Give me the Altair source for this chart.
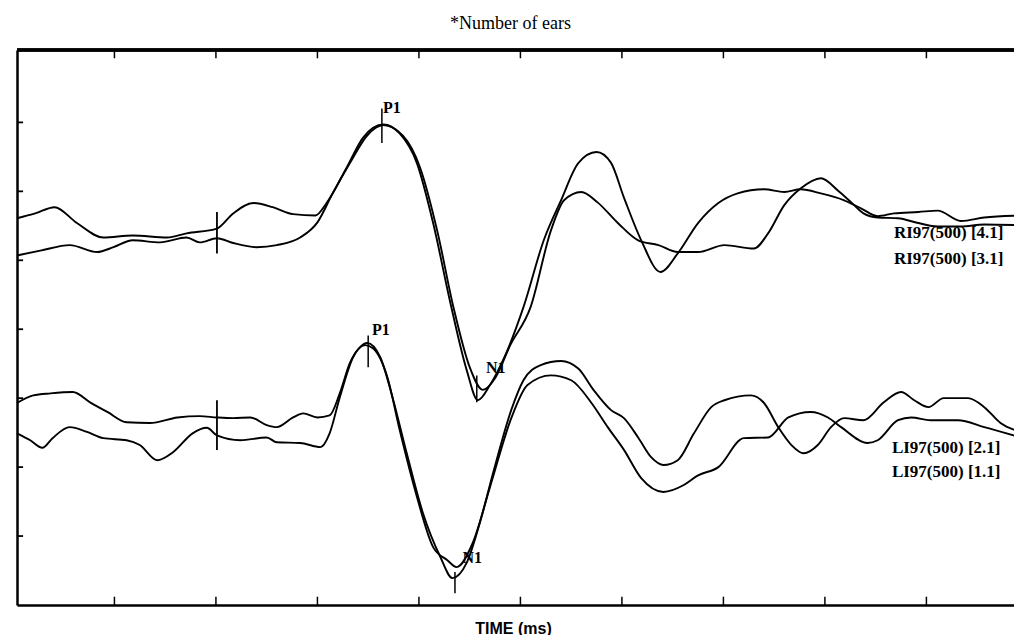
import altair as alt
import pandas as pd

# ---- waveform data (time in ms, amplitude in µV) ----
U1_T = [4, 22, 41, 63, 89, 118, 152, 171, 201, 217, 237, 256, 276, 298, 309, 329, 345, 365, 381, 398,
        414, 431, 447, 458, 470, 485, 503, 523, 540, 557, 575, 589, 602, 619, 638, 655, 675, 695, 714,
        740, 760, 776, 796, 819, 836, 852, 868, 892, 911, 934, 957, 993]
U1_V = [1.61, 1.68, 1.77, 1.54, 1.33, 1.36, 1.33, 1.39, 1.46, 1.68, 1.83, 1.77, 1.67, 1.65, 1.83, 2.35,
        2.78, 2.97, 2.84, 2.41, 1.54, 0.38, -0.59, -1.03, -0.81, -0.38, 0.32, 1.29, 1.87, 2.41, 2.57,
        2.42, 1.91, 1.29, 0.83, 1.10, 1.54, 1.83, 1.97, 2.03, 1.99, 2.03, 1.97, 1.87, 1.75, 1.64, 1.68,
        1.70, 1.72, 1.57, 1.62, 1.65]

U2_T = [4, 27, 56, 83, 99, 118, 145, 171, 184, 201, 217, 240, 260, 283, 300, 315, 332, 349, 365, 384,
        401, 418, 434, 450, 463, 475, 490, 510, 530, 543, 560, 576, 596, 616, 636, 655, 675, 701, 730,
        744, 760, 776, 796, 813, 826, 838, 852, 872, 892, 911, 934, 957, 993]
U2_V = [1.07, 1.14, 1.22, 1.12, 1.19, 1.29, 1.26, 1.33, 1.26, 1.32, 1.25, 1.19, 1.22, 1.33, 1.55, 1.97,
        2.41, 2.81, 2.96, 2.81, 2.35, 1.43, 0.32, -0.55, -0.88, -0.71, -0.23, 0.32, 1.43, 1.87, 1.99,
        1.84, 1.54, 1.29, 1.22, 1.12, 1.12, 1.22, 1.17, 1.39, 1.80, 2.04, 2.19, 2.01, 1.84, 1.68, 1.62,
        1.61, 1.54, 1.49, 1.49, 1.52, 1.51]

L1_T = [4, 20, 37, 59, 76, 93, 112, 135, 162, 184, 201, 217, 234, 250, 260, 276, 286, 300, 312, 322,
        332, 342, 349, 362, 374, 388, 404, 421, 433, 447, 460, 473, 491, 503, 520, 540, 557, 572, 589,
        602, 616, 629, 641, 655, 671, 688, 701, 727, 740, 754, 767, 779, 793, 806, 819, 838, 858, 875,
        888, 902, 917, 941, 957, 973, 993]
L1_V = [-1.07, -0.96, -0.93, -0.91, -1.06, -1.20, -1.35, -1.36, -1.28, -1.26, -1.28, -1.29, -1.28,
        -1.39, -1.42, -1.28, -1.22, -1.28, -1.25, -0.93, -0.49, -0.26, -0.20, -0.41, -0.99, -1.80,
        -2.67, -3.30, -3.61, -3.39, -2.81, -2.09, -1.17, -0.74, -0.52, -0.46, -0.57, -0.88, -1.17,
        -1.29, -1.57, -1.86, -1.97, -1.90, -1.51, -1.13, -1.03, -0.96, -1.07, -1.42, -1.68, -1.80,
        -1.68, -1.42, -1.29, -1.32, -1.06, -0.91, -1.03, -1.13, -1.00, -1.00, -1.13, -1.36, -1.49]

L2_T = [4, 17, 29, 39, 56, 73, 89, 112, 125, 142, 158, 177, 191, 201, 224, 250, 260, 283, 303, 312,
        322, 335, 347, 355, 369, 381, 398, 414, 428, 437, 453, 470, 491, 507, 530, 550, 570, 586, 602,
        619, 641, 661, 675, 695, 720, 744, 764, 786, 803, 816, 842, 852, 872, 885, 904, 931, 957, 993]
L2_V = [-1.51, -1.61, -1.72, -1.58, -1.42, -1.49, -1.58, -1.61, -1.68, -1.90, -1.78, -1.51, -1.43,
        -1.54, -1.61, -1.57, -1.64, -1.65, -1.71, -1.51, -0.99, -0.41, -0.23, -0.28, -0.70, -1.46,
        -2.43, -3.16, -3.35, -3.45, -3.10, -2.29, -1.29, -0.81, -0.67, -0.74, -1.07, -1.42, -1.75,
        -2.16, -2.36, -2.26, -2.12, -2.00, -1.58, -1.57, -1.28, -1.20, -1.28, -1.42, -1.65, -1.61,
        -1.32, -1.28, -1.32, -1.32, -1.42, -1.57]

SERIES = ["RI97(500) [4.1]", "RI97(500) [3.1]", "LI97(500) [2.1]", "LI97(500) [1.1]"]

# series labels at the right end
LABEL_T = [868, 868, 866, 866]
LABEL_V = [1.32, 0.95, -1.80, -2.14]

# component markers (P1 / N1) : vertical tick and label
COMP_TEXT = ["P1", "N1", "P1", "N1"]
COMP_T = [363.5, 457, 350, 435.5]
COMP_V_TOP = [3.20, -0.67, -0.09, -3.52]
COMP_V_BOT = [2.70, -1.06, -0.55, -3.83]
COMP_LABEL_T = [364.5, 466, 353.7, 443]
COMP_LABEL_V = [3.14, -0.64, -0.09, -3.39]

# stimulus onset markers
ONSET_T = [201, 201]
ONSET_V_TOP = [1.70, -1.03]
ONSET_V_BOT = [1.10, -1.75]

X_TICKS = [100, 200, 300, 400, 500, 600, 700, 800, 900]
Y_TICKS = [-3, -2, -1, 0, 1, 2, 3]
X_MIN, X_MAX = 4, 986.3
Y_MIN, Y_MAX = -4, 4.05

rows = []
for name, ts, vs in zip(SERIES, [U1_T, U2_T, L1_T, L2_T], [U1_V, U2_V, L1_V, L2_V]):
    for t, v in zip(ts, vs):
        rows.append({"series": name, "t": t, "v": v})
waves = pd.DataFrame(rows)

labels = pd.DataFrame({"t": LABEL_T, "v": LABEL_V, "label": SERIES})
comps = pd.DataFrame({"t": COMP_T, "v": COMP_V_TOP, "v2": COMP_V_BOT})
comp_labels = pd.DataFrame({"t": COMP_LABEL_T, "v": COMP_LABEL_V, "label": COMP_TEXT})
onsets = pd.DataFrame({"t": ONSET_T, "v": ONSET_V_TOP, "v2": ONSET_V_BOT})
xt = pd.DataFrame({"t": X_TICKS})
yt = pd.DataFrame({"v": Y_TICKS})

xs = alt.Scale(domain=[X_MIN, X_MAX], nice=False, zero=False)
ys = alt.Scale(domain=[Y_MIN, Y_MAX], nice=False, zero=False)
xaxis = alt.Axis(title="TIME (ms)", orient="bottom", domain=True, domainColor="black",
                 domainWidth=2.5, ticks=False, labels=False, grid=False,
                 titleFont="Liberation Sans", titleFontSize=16, titleFontWeight="bold",
                 titleColor="black", titleX=496, titleY=28, titleBaseline="alphabetic",
                 titleAlign="center")
yaxis = alt.Axis(title=None, orient="left", domain=True, domainColor="black", domainWidth=2.5,
                 ticks=False, labels=False, grid=False)

X = lambda f: alt.X(f, scale=xs, axis=xaxis)
Y = lambda f: alt.Y(f, scale=ys, axis=yaxis)

lines = alt.Chart(waves).mark_line(color="black", strokeWidth=1.9, interpolate="monotone").encode(
    x=X("t:Q"), y=Y("v:Q"), detail="series:N")

comp_ticks = alt.Chart(comps).mark_rule(color="black", strokeWidth=1.5).encode(
    x=X("t:Q"), y=Y("v:Q"), y2="v2:Q")
onset_ticks = alt.Chart(onsets).mark_rule(color="black", strokeWidth=1.8).encode(
    x=X("t:Q"), y=Y("v:Q"), y2="v2:Q")

comp_text = alt.Chart(comp_labels).mark_text(
    align="left", baseline="alphabetic", font="Liberation Serif", fontWeight="bold",
    fontSize=16, color="black").encode(x=X("t:Q"), y=Y("v:Q"), text="label:N")

series_text = alt.Chart(labels).mark_text(
    align="left", baseline="alphabetic", font="Liberation Serif", fontWeight="bold",
    fontSize=17, color="black").encode(x=X("t:Q"), y=Y("v:Q"), text="label:N")

bottom_ticks = alt.Chart(xt).mark_rule(color="black", strokeWidth=1.5).encode(
    x=X("t:Q"), y=alt.datum(Y_MIN), y2=alt.datum(Y_MIN + 0.12))
top_ticks = alt.Chart(xt).mark_rule(color="black", strokeWidth=1.5).encode(
    x=X("t:Q"), y=alt.datum(Y_MAX), y2=alt.datum(Y_MAX - 0.12))
left_ticks = alt.Chart(yt).mark_rule(color="black", strokeWidth=1.8).encode(
    y=Y("v:Q"), x=alt.datum(X_MIN), x2=alt.datum(X_MIN + 6))
top_line = alt.Chart(xt).mark_rule(color="black", strokeWidth=2.5).encode(
    x=alt.datum(X_MIN), x2=alt.datum(993), y=alt.datum(Y_MAX))

chart = alt.layer(
    lines, onset_ticks, comp_ticks, comp_text, series_text,
    bottom_ticks, top_ticks, left_ticks, top_line
).properties(
    width=997, height=555,
    title=alt.TitleParams("*Number of ears", font="Liberation Serif", fontSize=18,
                          fontWeight="normal", color="black", anchor="middle",
                          offset=16, dx=-5),
    padding={"left": 9, "top": 42, "right": 0, "bottom": 30},
    autosize=alt.AutoSizeParams(type="none"),
).configure_view(stroke=None).configure(background="white")

chart.save("out.html", embed_options={"renderer": "svg", "actions": False})
